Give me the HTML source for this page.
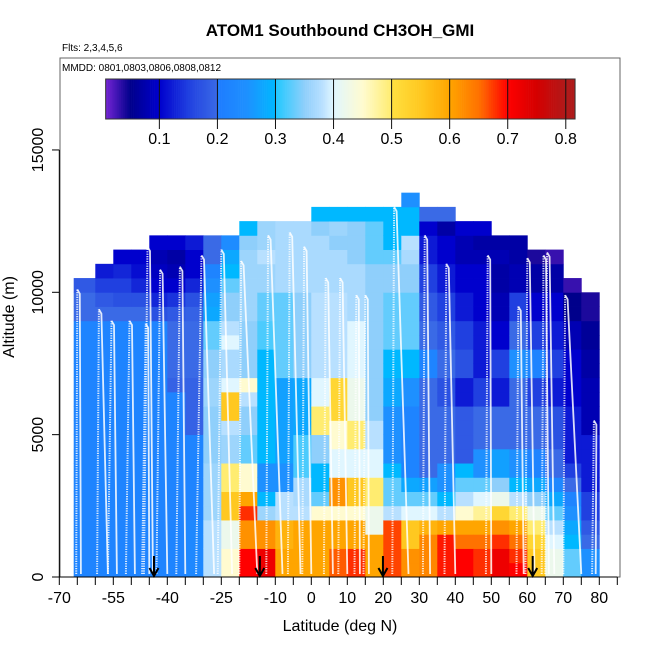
<!DOCTYPE html>
<html><head><meta charset="utf-8"><style>
html,body{margin:0;padding:0;background:#fff;}
svg text{font-family:"Liberation Sans",sans-serif;}
</style></head><body>
<svg id="chart" width="650" height="650" viewBox="0 0 650 650" xmlns="http://www.w3.org/2000/svg">
<text x="340" y="36" text-anchor="middle" font-size="17" font-weight="bold">ATOM1 Southbound CH3OH_GMI</text>
<text x="62" y="51" font-size="10">Flts: 2,3,4,5,6</text>
<rect x="60" y="58" width="560" height="519" fill="none" stroke="#666" stroke-width="1"/>
<text x="62" y="71" font-size="10">MMDD: 0801,0803,0806,0808,0812</text>
<g id="heat"></g>
<g id="tracks"></g>
<g id="arrows"></g>
<g id="cbar"></g>
<g id="axes"></g>
<text x="340" y="631" text-anchor="middle" font-size="16">Latitude (deg N)</text>
<text transform="translate(14,317) rotate(-90)" text-anchor="middle" font-size="16">Altitude (m)</text>
</svg>
<script>
// latitude bin edges (deg N)
const latEdges = [-66,-60,-55,-50,-45,-40,-35,-30,-25,-20,-15,-10,-5,0,5,10,15,20,25,30,35,40,45,50,55,60,65,70,75,80];
const altBin = 500; // metres per row
// CH3OH per latitude column, bottom-up, 500 m bins
const c0=[.22,.22,.22,.22,.22,.22,.22,.22,.22,.22,.22,.22,.22,.22,.22,.22,.22,.22,.2,.2,.18];
const c1=[.22,.22,.22,.22,.22,.22,.22,.22,.22,.22,.22,.22,.22,.22,.22,.22,.22,.22,.2,.18,.15,.12];
const c2=[.22,.22,.22,.22,.22,.22,.22,.22,.22,.22,.22,.22,.22,.22,.22,.22,.22,.22,.2,.17,.15,.13,.1];
const c3=[.22,.22,.22,.22,.22,.22,.22,.22,.22,.22,.22,.22,.22,.22,.22,.22,.22,.22,.2,.17,.13,.11,.1];
const c4=[.22,.22,.22,.22,.22,.22,.22,.22,.22,.22,.22,.22,.22,.22,.22,.22,.22,.22,.17,.13,.1,.09,.08,.1];
const c5=[.22,.22,.22,.22,.22,.22,.22,.22,.22,.22,.22,.22,.22,.19,.2,.2,.2,.2,.18,.14,.1,.08,.07,.1];
const c6=[.23,.23,.23,.23,.22,.22,.22,.22,.22,.22,.19,.19,.19,.19,.2,.2,.2,.2,.19,.17,.13,.1,.1,.12];
const c7=[.38,.38,.38,.38,.36,.36,.36,.36,.35,.35,.35,.35,.36,.36,.35,.35,.33,.33,.28,.27,.25,.22,.2,.2];
const c8=[.45,.45,.42,.42,.55,.55,.5,.5,.36,.36,.38,.55,.55,.4,.37,.37,.4,.38,.35,.35,.33,.3,.28,.24];
const c9=[.7,.7,.62,.62,.68,.6,.45,.45,.33,.33,.35,.35,.38,.45,.35,.35,.35,.35,.36,.36,.36,.36,.36,.35,.3];
const c10=[.72,.72,.62,.62,.36,.3,.25,.25,.3,.3,.3,.3,.3,.3,.3,.3,.32,.32,.33,.33,.36,.36,.38,.36,.36];
const c11=[.6,.6,.58,.58,.38,.38,.25,.25,.27,.27,.27,.27,.27,.27,.33,.33,.33,.33,.33,.33,.37,.37,.37,.37,.37];
const c12=[.6,.6,.6,.6,.38,.37,.37,.32,.32,.32,.28,.28,.28,.28,.35,.35,.35,.35,.35,.35,.37,.37,.37,.37,.37];
const c13=[.6,.6,.6,.6,.45,.33,.3,.3,.35,.35,.5,.5,.4,.4,.38,.38,.38,.38,.38,.38,.37,.37,.37,.37,.35,.3];
const c14=[.66,.66,.6,.6,.45,.62,.62,.4,.4,.45,.45,.52,.52,.52,.38,.38,.38,.38,.38,.38,.37,.37,.37,.35,.36,.3];
const c15=[.68,.68,.6,.6,.45,.55,.55,.4,.4,.5,.5,.42,.42,.42,.4,.4,.4,.4,.37,.37,.37,.37,.35,.35,.35,.3];
const c16=[.6,.6,.6,.42,.42,.5,.5,.4,.4,.38,.38,.35,.35,.35,.35,.35,.35,.35,.35,.35,.35,.35,.33,.33,.33,.3];
const c17=[.67,.67,.67,.67,.38,.33,.33,.3,.25,.25,.25,.25,.28,.28,.3,.3,.33,.33,.33,.33,.35,.35,.33,.3,.3,.3];
const c18=[.62,.62,.55,.55,.4,.33,.28,.22,.22,.22,.22,.22,.25,.25,.3,.3,.33,.33,.33,.33,.35,.35,.37,.38,.3,.3,.25];
const c19=[.63,.63,.63,.58,.4,.33,.27,.2,.2,.2,.2,.2,.2,.2,.22,.22,.2,.2,.18,.18,.15,.15,.12,.12,.1,.2];
const c20=[.69,.69,.69,.6,.38,.3,.25,.25,.2,.2,.2,.2,.17,.17,.2,.2,.18,.18,.15,.15,.12,.12,.1,.1,.07,.2];
const c21=[.7,.7,.65,.6,.45,.38,.33,.3,.18,.18,.18,.18,.12,.12,.17,.17,.15,.15,.12,.12,.1,.1,.08,.08,.1];
const c22=[.68,.68,.65,.6,.48,.4,.33,.25,.25,.2,.2,.2,.15,.15,.12,.12,.12,.12,.1,.1,.1,.1,.08,.07,.1];
const c23=[.72,.72,.68,.62,.52,.42,.35,.27,.27,.2,.2,.2,.12,.12,.15,.15,.1,.1,.08,.08,.07,.07,.08,.07];
const c24=[.7,.68,.65,.6,.5,.38,.3,.25,.25,.2,.2,.2,.2,.2,.25,.25,.2,.2,.15,.15,.08,.08,.07,.07];
const c25=[.55,.55,.52,.5,.42,.35,.28,.22,.22,.2,.2,.2,.15,.15,.22,.22,.15,.15,.1,.1,.07,.07,.04];
const c26=[.42,.42,.4,.38,.33,.28,.23,.2,.2,.17,.17,.17,.12,.12,.15,.15,.12,.12,.1,.1,.07,.07,.03];
const c27=[.33,.33,.3,.28,.25,.22,.2,.15,.12,.12,.12,.12,.1,.1,.1,.1,.08,.08,.05,.05,.03];
const c28=[.25,.25,.2,.18,.15,.15,.12,.12,.12,.12,.08,.08,.08,.08,.07,.07,.06,.06,.04,.04];
const columns=[c0,c1,c2,c3,c4,c5,c6,c7,c8,c9,c10,c11,c12,c13,c14,c15,c16,c17,c18,c19,c20,c21,c22,c23,c24,c25,c26,c27,c28];
// flight profiles: [ascent-start lat, peak lat, peak altitude m, descent-end lat]
const trackStartLat=[-65.3,-59.5,-56.5,-51.5,-47,-46.5,-43,-37.5,-32,-26,-20,-12.5,-6.5,-2.5,3.5,7.5,12,14.5,22.5,31,37,48.5,57,59.5,64,65,70,78];
const trackPeakLat=[-65,-59,-55.5,-50.5,-46,-45.5,-42,-36.5,-30.5,-25,-19.5,-12,-6,-2,4,8,12.5,15,23,31.5,37.5,49,57.5,60,64.5,65.5,70.5,78.5];
const trackPeakAlt=[10100,9400,9000,9000,8900,11600,10800,10900,11300,11500,11100,12000,12100,11600,10500,10500,9900,9900,13000,12000,11000,11300,9500,11200,11300,11400,9900,5500];
const trackEndLat=[-64,-56.5,-54,-49,-45,-44,-40,-35,-27,-22,-15,-8,-3,0,6,10,13.5,16,27,33,40,50,59,62,66,67.5,75,79];
const arrowLat=[-43.7,-14.3,19.9,61.5];
const xTicks=[-70,-65,-60,-55,-50,-45,-40,-35,-30,-25,-20,-15,-10,-5,0,5,10,15,20,25,30,35,40,45,50,55,60,65,70,75,80,85];
const xLabels=[-70,-55,-40,-25,-10,0,10,20,30,40,50,60,70,80];
const yTicks=[0,5000,10000,15000];
const cbTicks=[0.1,0.2,0.3,0.4,0.5,0.6,0.7,0.8];
const cbMin=0.0075, cbMax=0.816;

const NS="http://www.w3.org/2000/svg";
const X=lat=>59.3+(lat+70)*3.6;
const Y=alt=>577-alt*0.02847;
const CB=v=>101.3+v*580.6;
const stops=[[0,"#8a2be2"],[0.05,"#00008b"],[0.1,"#0000cd"],[0.15,"#2040e0"],[0.2,"#3a6ae6"],[0.2001,"#1e7cff"],[0.25,"#1e90ff"],[0.3,"#00b8ff"],[0.3001,"#20c8ff"],[0.35,"#8fcffb"],[0.38,"#b8e0ff"],[0.4,"#e0f6ff"],[0.45,"#fffbd0"],[0.5,"#ffec70"],[0.5001,"#ffe040"],[0.55,"#ffc820"],[0.6,"#ffa500"],[0.65,"#ff7200"],[0.7,"#ff0000"],[0.75,"#d40000"],[0.8,"#b01a1a"],[1,"#a01010"]];
function hex(h){return [1,3,5].map(i=>parseInt(h.substr(i,2),16));}
function col(v){
  for(let i=1;i<stops.length;i++){
    if(v<=stops[i][0]){const a=stops[i-1],b=stops[i];const t=(v-a[0])/(b[0]-a[0]);
      const A=hex(a[1]),B=hex(b[1]);return "rgb("+A.map((c,k)=>Math.round(c+(B[k]-c)*t)).join(",")+")";}
  }
  return stops[stops.length-1][1];
}
function mk(tag,attrs,parent){const e=document.createElementNS(NS,tag);for(const k in attrs)e.setAttribute(k,attrs[k]);parent.appendChild(e);return e;}

// heatmap
const heat=document.getElementById("heat");
columns.forEach((arr,ci)=>{
  const x0=X(latEdges[ci]),x1=X(latEdges[ci+1]);
  arr.forEach((v,ri)=>{
    const y0=Y((ri+1)*altBin),y1=Y(ri*altBin);
    const r=mk("rect",{x:x0.toFixed(2),y:y0.toFixed(2),width:(x1-x0+0.4).toFixed(2),height:(y1-y0+0.4).toFixed(2),fill:col(v)},heat);
    
    
  });
});
// tracks
const tr=document.getElementById("tracks");
trackPeakLat.forEach((pl,i)=>{
  const a=mk("line",{x1:X(trackStartLat[i]),y1:Y(0)-3,x2:X(pl),y2:Y(trackPeakAlt[i]),stroke:"#fff","stroke-width":2,"stroke-dasharray":"1.2,1.2",opacity:0.85},tr);
  
  
  const d=mk("polyline",{points:X(pl)+","+Y(trackPeakAlt[i])+" "+(X(pl)+2.5)+","+Y(trackPeakAlt[i]-150)+" "+X(trackEndLat[i])+","+(Y(0)-3),fill:"none",stroke:"#fff","stroke-width":1.8,opacity:0.85},tr);
  
  
});
// arrows
const ar=document.getElementById("arrows");
arrowLat.forEach(l=>{
  const x=X(l);
  const g=mk("path",{d:`M${x},556 L${x},576 M${x-4.5},568 L${x},576 L${x+4.5},568`,stroke:"#000","stroke-width":2,fill:"none"},ar);
  
  
});
// colorbar
const cb=document.getElementById("cbar");
const n=240;
for(let i=0;i<n;i++){
  const v0=cbMin+(cbMax-cbMin)*i/n, v1=cbMin+(cbMax-cbMin)*(i+1)/n;
  const r=mk("rect",{x:CB(v0).toFixed(2),y:79,width:(CB(v1)-CB(v0)+0.3).toFixed(2),height:40,fill:col((v0+v1)/2)},cb);
  
  
}
const cbb=mk("rect",{x:CB(cbMin),y:79,width:CB(cbMax)-CB(cbMin),height:40,fill:"none",stroke:"#333","stroke-width":1},cb);


cbTicks.forEach(t=>{
  const l=mk("line",{x1:CB(t),y1:79,x2:CB(t),y2:129,stroke:"#111","stroke-width":1},cb);
  
  
  const tx=mk("text",{x:CB(t),y:144,"text-anchor":"middle","font-size":16},cb);
  tx.textContent=t.toFixed(1);
  
  
});
// axes
const ax=document.getElementById("axes");
const xl=mk("line",{x1:X(-70),y1:577,x2:X(85),y2:577,stroke:"#000","stroke-width":1},ax);


xTicks.forEach(t=>{
  const l=mk("line",{x1:X(t),y1:577,x2:X(t),y2:585,stroke:"#000","stroke-width":1},ax);
  
  
});
xLabels.forEach(t=>{
  const tx=mk("text",{x:X(t),y:603,"text-anchor":"middle","font-size":16},ax);
  tx.textContent=t;
  
  
});
const yl=mk("line",{x1:59.3,y1:Y(0),x2:59.3,y2:Y(15000),stroke:"#000","stroke-width":1},ax);


yTicks.forEach(t=>{
  const l=mk("line",{x1:52,y1:Y(t),x2:59.3,y2:Y(t),stroke:"#000","stroke-width":1},ax);
  
  
  const tx=mk("text",{transform:`translate(43,${Y(t)}) rotate(-90)`,"text-anchor":"middle","font-size":16},ax);
  tx.textContent=t;
  
  
});
</script>
</body></html>
